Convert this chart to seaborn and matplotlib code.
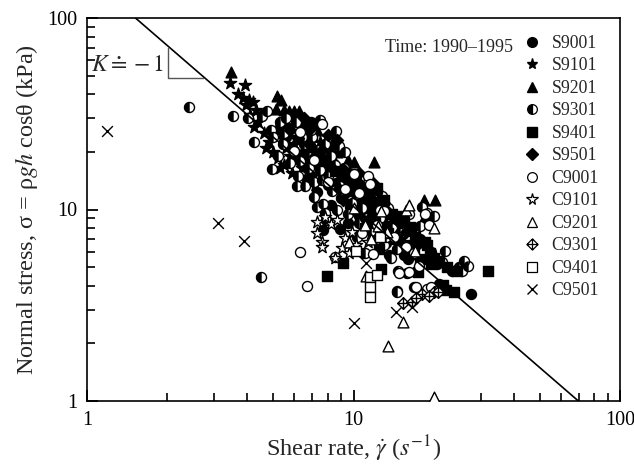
import numpy as np
import pandas as pd
import matplotlib
matplotlib.use("Agg")
import matplotlib.pyplot as plt
import seaborn as sns
from matplotlib.path import Path
from matplotlib.lines import Line2D
from matplotlib.ticker import NullFormatter, FixedLocator, FixedFormatter

# ---------------- data (shear rate, normal stress) ----------------
S9001 = [(7.7, 7.8), (8.9, 7.9), (13.6, 5.8), (15.5, 5.8), (14.5, 3.74), (16.9, 3.93),
         (27.5, 3.6), (17.8, 7.0), (10.5, 9.2), (11.5, 8.2), (12.5, 7.3), (13.2, 6.7),
         (9.5, 8.5), (8.2, 10.5), (7.3, 12.4), (6.9, 15.0), (6.5, 16.8), (8.0, 13.5),
         (9.0, 14.5), (10.0, 13.0), (10.8, 11.5), (11.8, 9.8), (12.8, 8.8), (14.0, 7.3),
         (15.2, 6.5), (16.0, 5.5), (6.0, 18.5), (6.7, 20.0), (7.5, 19.0), (10.9, 5.9),
         (11.4, 10.8), (9.7, 10.3), (16.8, 6.1), (20.5, 5.2), (21.0, 4.1), (12.3, 12.6),
         (5.6, 24.0), (6.3, 27.0), (7.0, 23.5), (8.4, 17.5), (5.9, 21.0), (6.4, 19.5),
         (7.1, 17.5), (7.8, 16.0), (8.6, 13.8), (9.3, 12.2), (10.4, 11.0), (11.0, 10.0),
         (5.4, 28.0), (6.9, 28.5), (8.1, 21.0), (9.6, 15.5), (12.0, 9.3), (13.8, 8.3),
         (15.0, 7.0)]
S9101 = [(3.45, 46.0), (3.9, 44.5), (3.7, 40.0), (3.85, 38.0), (4.05, 37.5), (4.2, 36.5),
         (3.95, 35.0), (4.3, 33.0), (4.1, 31.0), (4.4, 28.5), (4.25, 27.0), (4.6, 25.0),
         (4.8, 22.5), (4.7, 21.0), (5.0, 20.0), (5.2, 18.5), (5.5, 17.0), (5.3, 16.5),
         (5.8, 19.0), (6.0, 22.0), (6.3, 25.0), (5.7, 27.0), (6.5, 28.0), (6.1, 24.0),
         (6.8, 21.0), (7.0, 17.0), (6.6, 14.5), (7.2, 13.5), (5.4, 23.5), (5.9, 15.5),
         (5.6, 21.0), (6.2, 19.5), (6.9, 24.5), (5.1, 26.0), (4.5, 31.0), (7.5, 22.5),
         (6.4, 16.5)]
S9201 = [(3.47, 52.0), (5.18, 39.0), (5.36, 37.5), (5.1, 33.5), (5.5, 33.0), (5.75, 32.5),
         (6.0, 32.5), (6.25, 32.5), (5.9, 31.0), (6.4, 30.5), (7.9, 23.0), (8.4, 22.5),
         (8.7, 20.0), (9.5, 18.2), (10.0, 17.8), (11.9, 17.8), (9.9, 12.6), (11.1, 11.0),
         (12.5, 11.2), (13.5, 10.5), (18.4, 11.2), (20.3, 11.2), (18.2, 8.8), (19.0, 9.0),
         (10.5, 10.0), (7.3, 26.0), (6.8, 28.0), (8.2, 20.5), (14.5, 8.5), (12.0, 13.0)]
S9301 = [(2.42, 34.2), (4.49, 4.42), (3.53, 30.7), (4.01, 30.0), (4.55, 30.8), (4.74, 32.6),
         (4.25, 22.4), (4.95, 16.3), (5.46, 21.9), (4.9, 26.0), (5.3, 28.5), (5.6, 30.0),
         (5.0, 24.0), (7.48, 29.5), (8.6, 25.7), (6.83, 18.7), (6.2, 15.0), (6.6, 13.3),
         (6.16, 13.3), (7.08, 11.6), (7.7, 10.7), (7.8, 9.6), (7.9, 8.8), (7.1, 14.0),
         (7.5, 16.0), (8.0, 15.0), (8.5, 17.0), (9.2, 16.5), (8.3, 12.5), (9.0, 11.5),
         (8.7, 10.0), (9.5, 9.5), (6.0, 20.0), (6.5, 22.0), (5.8, 17.5), (10.5, 8.5),
         (11.0, 9.0), (11.6, 7.7), (12.2, 7.0), (13.0, 6.5), (12.6, 9.0), (13.5, 10.2),
         (14.0, 8.0), (14.5, 6.2), (14.7, 4.8), (13.8, 5.6), (15.3, 8.8), (16.5, 7.7),
         (17.2, 6.8), (18.9, 9.6), (18.0, 10.3), (20.0, 9.2), (22.0, 6.1), (24.8, 5.0),
         (25.5, 4.8), (27.0, 5.1), (23.5, 4.8), (14.6, 3.72), (11.0, 5.9), (10.3, 7.2),
         (9.6, 13.5), (7.3, 20.5), (6.4, 24.0), (5.9, 26.5), (10.2, 12.0), (12.0, 10.3),
         (8.8, 21.5), (7.0, 24.0), (15.9, 4.66), (5.2, 19.0), (5.5, 25.0), (6.1, 28.5),
         (6.9, 26.0), (7.8, 22.0), (8.2, 19.0), (7.6, 14.2), (8.9, 13.2), (9.9, 10.8),
         (10.8, 10.2), (11.8, 8.6), (6.8, 16.5), (6.3, 18.0), (7.3, 10.3), (9.3, 20.0),
         (10.5, 14.5), (12.8, 11.8), (13.2, 7.2), (15.0, 7.5), (16.2, 9.5), (17.8, 8.2),
         (19.5, 6.0), (21.5, 5.3), (26.0, 5.4)]
S9401 = [(7.94, 4.5), (9.13, 5.25), (32.0, 4.8), (23.8, 3.7), (21.6, 4.03), (22.2, 3.8),
         (19.4, 5.9), (17.5, 4.74), (16.3, 8.1), (15.0, 9.2), (18.8, 6.5), (12.7, 4.9),
         (12.2, 13.0), (10.2, 13.8), (11.2, 12.0), (13.0, 11.2), (14.0, 9.5), (15.5, 8.6),
         (17.0, 7.2), (18.5, 6.8), (20.0, 5.6), (21.0, 5.4), (22.5, 5.0), (13.5, 7.5),
         (14.5, 7.0), (12.0, 8.5), (11.0, 8.0), (16.2, 6.5), (19.5, 5.2), (24.5, 4.8),
         (17.8, 5.5), (9.5, 12.5), (8.5, 15.8), (7.8, 18.0), (12.5, 6.2)]
S9501 = [(5.8, 26.0), (6.2, 23.5), (6.8, 22.0), (7.2, 19.0), (8.3, 16.5), (9.6, 14.0),
         (10.8, 13.2), (11.6, 11.5), (12.3, 10.7), (13.4, 9.8), (14.6, 8.8), (10.2, 9.7),
         (9.1, 11.2), (11.3, 8.8), (12.8, 8.0), (8.0, 24.5), (8.7, 23.0), (15.8, 7.6),
         (17.4, 6.6), (6.5, 30.0), (7.6, 20.5), (9.2, 16.0), (10.5, 15.5), (11.8, 13.8),
         (7.0, 27.0), (8.8, 12.8)]
C9001 = [(6.31, 6.03), (6.72, 3.99), (8.5, 5.68), (10.0, 15.3), (11.3, 15.0), (11.5, 13.6),
         (12.6, 10.0), (15.8, 6.4), (16.1, 4.74), (19.2, 8.3), (18.5, 9.5), (14.8, 4.66),
         (17.1, 3.95), (18.8, 3.85), (19.6, 3.95), (11.8, 5.85), (13.0, 9.8), (12.2, 8.3),
         (10.5, 12.2), (9.3, 12.8), (7.1, 18.2), (6.3, 25.5), (7.6, 28.0), (10.8, 7.5),
         (14.2, 7.2), (16.8, 5.9), (17.6, 5.1), (20.6, 3.75), (8.0, 14.0), (6.0, 20.3)]
C9101 = [(7.3, 8.6), (7.3, 7.5), (7.6, 6.8), (7.6, 6.4), (8.2, 8.4), (7.8, 9.1), (9.3, 7.1),
         (9.06, 6.26), (9.6, 5.9), (11.3, 6.8), (10.2, 6.5), (8.7, 8.8), (9.9, 7.6), (8.5, 5.6)]
C9201 = [(20.1, 1.05), (13.5, 1.94), (15.4, 2.6), (11.1, 4.51), (15.8, 10.0), (16.1, 10.6),
         (20.0, 8.0), (10.0, 10.2), (11.0, 8.3), (12.4, 8.2), (12.7, 9.8), (11.6, 7.0),
         (17.0, 6.1), (13.4, 7.6), (9.6, 6.8)]
C9301 = [(15.4, 3.24), (16.6, 3.3), (18.1, 3.6), (20.0, 3.7), (20.8, 3.7), (17.2, 3.45),
         (19.2, 3.55)]
C9401 = [(10.2, 6.05), (11.5, 4.45), (11.5, 3.95), (11.5, 3.5), (12.3, 4.55), (12.6, 7.2)]
C9501 = [(1.19, 25.7), (3.1, 8.55), (3.88, 6.87), (10.0, 2.55), (11.1, 5.25), (14.4, 2.93),
         (16.6, 3.1)]

series_names = ["S9001", "S9101", "S9201", "S9301", "S9401", "S9501",
                "C9001", "C9101", "C9201", "C9301", "C9401", "C9501"]
series_data = [S9001, S9101, S9201, S9301, S9401, S9501,
               C9001, C9101, C9201, C9301, C9401, C9501]

tick_values = [1, 10, 100]
tick_labels = ["1", "10", "100"]
minor_values = [2, 3, 4, 5, 6, 7, 8, 9, 20, 30, 40, 50, 60, 70, 80, 90]

fit_x = [1.52, 69.8]
fit_y = [100.0, 1.0]
tri_x = [2.007, 2.007, 2.72]
tri_y = [70.0, 48.5, 48.5]

# ---------------- style ----------------
sns.set_theme(style="ticks")
plt.rcParams["font.family"] = ["Liberation Serif", "DejaVu Serif"]
plt.rcParams["mathtext.fontset"] = "stix"

fig = plt.figure(figsize=(6.34, 4.68), dpi=100)
ax = fig.add_axes([87 / 634, 1 - 401 / 468, 533 / 634, 383 / 468])

# custom markers
t = np.linspace(np.pi / 2, 3 * np.pi / 2, 40)
half_verts = np.column_stack([np.cos(t), np.sin(t)])
half_verts = np.vstack([half_verts, half_verts[:1]])
half_codes = [Path.MOVETO] + [Path.LINETO] * (len(t) - 1) + [Path.CLOSEPOLY]
half_disk = Path(half_verts, half_codes)

dp_verts = [(0, 1), (1, 0), (0, -1), (-1, 0), (0, 1),
            (0, 1), (0, -1), (-1, 0), (1, 0)]
dp_codes = [Path.MOVETO, Path.LINETO, Path.LINETO, Path.LINETO, Path.CLOSEPOLY,
            Path.MOVETO, Path.LINETO, Path.MOVETO, Path.LINETO]
diamond_plus = Path(dp_verts, dp_codes)

spec = {
    "S9001": dict(marker="o", s=52, fc="black", ec="black"),
    "S9101": dict(marker="*", s=85, fc="black", ec="black"),
    "S9201": dict(marker="^", s=60, fc="black", ec="black"),
    "S9301": dict(marker="o", s=52, fc="white", ec="black"),
    "S9401": dict(marker="s", s=48, fc="black", ec="black"),
    "S9501": dict(marker="D", s=38, fc="black", ec="black"),
    "C9001": dict(marker="o", s=52, fc="white", ec="black"),
    "C9101": dict(marker="*", s=85, fc="white", ec="black"),
    "C9201": dict(marker="^", s=60, fc="white", ec="black"),
    "C9301": dict(marker=diamond_plus, s=70, fc="white", ec="black"),
    "C9401": dict(marker="s", s=48, fc="white", ec="black"),
}

for name, pts in zip(series_names, series_data):
    df = pd.DataFrame(pts, columns=["rate", "stress"])
    if name == "C9501":
        sns.scatterplot(data=df, x="rate", y="stress", marker="x", s=60,
                        color="black", linewidth=1.0, ax=ax, legend=False, zorder=3)
        continue
    sp = spec[name]
    sns.scatterplot(data=df, x="rate", y="stress", marker=sp["marker"], s=sp["s"],
                    facecolor=sp["fc"], edgecolor=sp["ec"], linewidth=1.0,
                    ax=ax, legend=False, zorder=3)
    if name == "S9301":
        sns.scatterplot(data=df, x="rate", y="stress", marker=half_disk, s=sp["s"],
                        facecolor="black", edgecolor="black", linewidth=0.3,
                        ax=ax, legend=False, zorder=3)

# fitted line and slope triangle
sns.lineplot(x=fit_x, y=fit_y, color="black", linewidth=1.2, sort=False,
             estimator=None, ax=ax, zorder=4)
sns.lineplot(x=tri_x, y=tri_y, color="#555555", linewidth=1.0, sort=False,
             estimator=None, ax=ax, zorder=4)

ax.set_xscale("log")
ax.set_yscale("log")
ax.set_xlim(1, 100)
ax.set_ylim(1, 100)
for axis in (ax.xaxis, ax.yaxis):
    axis.set_major_locator(FixedLocator(tick_values))
    axis.set_major_formatter(FixedFormatter(tick_labels))
    axis.set_minor_locator(FixedLocator(minor_values))
    axis.set_minor_formatter(NullFormatter())
ax.tick_params(which="major", direction="in", length=8, width=1.3, labelsize=14.5,
               pad=7, colors="black", top=False, right=False)
ax.tick_params(which="minor", direction="in", length=5.5, width=1.2, colors="black",
               top=False, right=False, left=True, bottom=True)
for sp_ in ax.spines.values():
    sp_.set_linewidth(1.2)
    sp_.set_color("black")

ax.set_xlabel(r"Shear rate, $\dot{\gamma}$ ($s^{-1}$)", fontsize=17.5, labelpad=3)
ax.set_ylabel(r"Normal stress, σ = ρ$gh$ cosθ (kPa)", fontsize=17.5, labelpad=5)

ax.text(0.1445, 0.877, r"$K \doteq -1$", transform=ax.transAxes, ha="right",
        va="center", fontsize=17)
ax.text(0.559, 0.924, "Time: 1990–1995", transform=ax.transAxes, ha="left",
        va="center", fontsize=13)

# legend
handles = [
    Line2D([], [], ls="none", marker="o", ms=7, mfc="black", mec="black"),
    Line2D([], [], ls="none", marker="*", ms=8, mfc="black", mec="black"),
    Line2D([], [], ls="none", marker="^", ms=7, mfc="black", mec="black"),
    Line2D([], [], ls="none", marker="o", ms=7, fillstyle="left", mfc="black",
           mfcalt="white", mec="black", mew=0.9),
    Line2D([], [], ls="none", marker="s", ms=6.5, mfc="black", mec="black"),
    Line2D([], [], ls="none", marker="D", ms=6, mfc="black", mec="black"),
    Line2D([], [], ls="none", marker="o", ms=7, mfc="white", mec="black", mew=0.9),
    Line2D([], [], ls="none", marker="*", ms=8.5, mfc="white", mec="black", mew=0.9),
    Line2D([], [], ls="none", marker="^", ms=7, mfc="white", mec="black", mew=0.9),
    Line2D([], [], ls="none", marker=diamond_plus, ms=8, mfc="white", mec="black", mew=0.9),
    Line2D([], [], ls="none", marker="s", ms=6.5, mfc="white", mec="black", mew=0.9),
    Line2D([], [], ls="none", marker="x", ms=7, mec="black", mew=1.0),
]
leg = ax.legend(handles, series_names, loc="upper left", bbox_to_anchor=(0.818, 0.956),
                frameon=False, fontsize=12.8, handlelength=1.0, handletextpad=0.6,
                labelspacing=0.31, borderaxespad=0, borderpad=0)

fig.savefig("out.png", dpi=100, facecolor="white")
